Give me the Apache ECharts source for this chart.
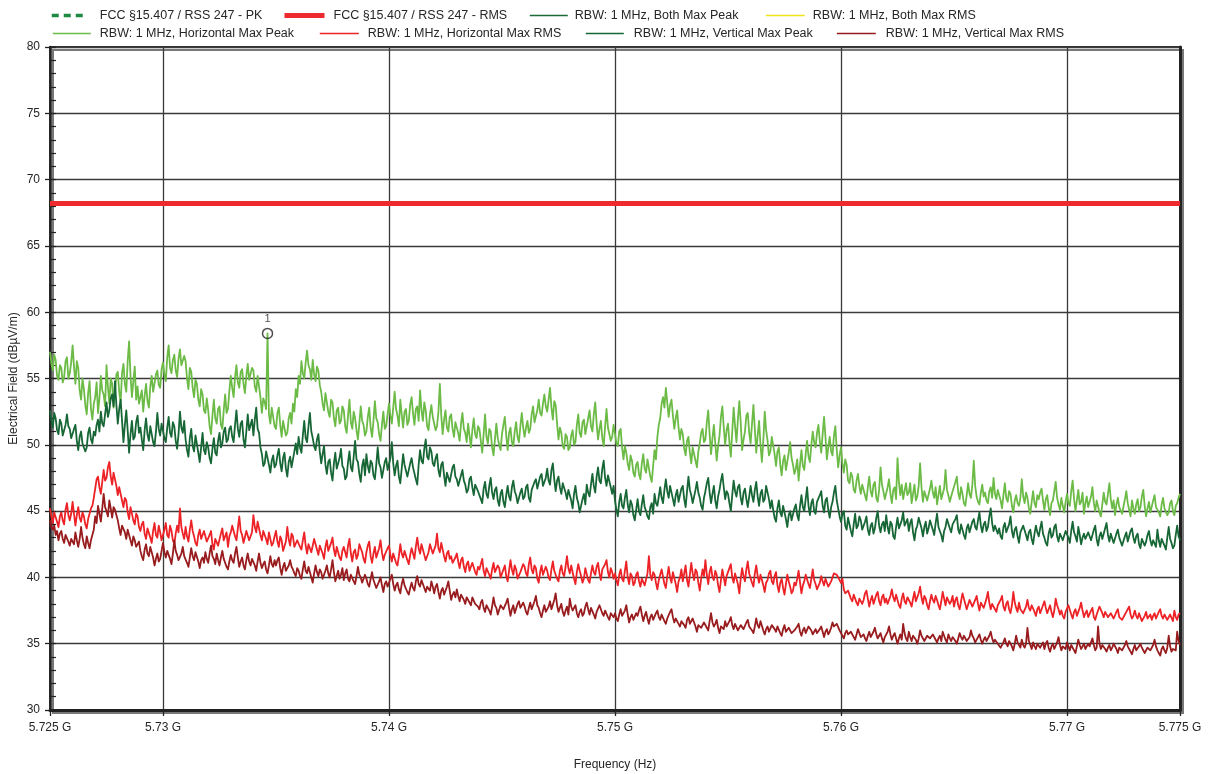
<!DOCTYPE html>
<html>
<head>
<meta charset="utf-8">
<script src="https://cdn.jsdelivr.net/npm/echarts@6/dist/echarts.min.js"></script>
<style>
html,body{margin:0;padding:0;background:#fff;}
#chart{width:1208px;height:774px;}
</style>
</head>
<body>
<div id="chart"></div>
<script>
// Sweep grid (MHz) and axis ticks
const sweepStartMHz = 5725;
const sweepStepMHz = 0.0625;
const freqTicksMHz = [5725, 5730, 5740, 5750, 5760, 5770, 5775];
const levelMin = 30, levelMax = 80, levelStep = 5;

// Limit line (dBµV/m)
const limitRms = 68.2;

// Marker 1
const markerFreqMHz = [5734.625];
const markerLevel = [58.4];
const markerIds = ['1'];

// RBW: 1 MHz, Horizontal Max Peak (dBµV/m), one row per MHz
const horizontalPeak = [
57.0,56.1,55.6,56.8,56.4,55.2,54.9,56.0,55.8,54.7,55.1,56.3,56.6,55.0,55.4,56.2,
57.5,55.9,54.6,56.3,55.8,54.1,53.4,55.0,54.2,53.0,52.3,53.9,54.8,52.7,51.9,53.1,
53.6,54.7,52.4,53.5,55.2,54.1,53.8,52.9,56.0,54.4,53.1,55.0,54.6,52.8,53.9,55.3,
55.5,54.0,53.2,55.4,56.1,54.6,54.0,56.3,57.8,55.2,53.6,54.8,55.9,53.4,54.4,53.1,
53.0,54.1,52.5,53.7,54.6,53.3,52.8,54.4,55.2,54.0,53.9,55.3,55.6,54.5,54.3,55.7,
56.2,55.3,54.8,56.6,57.5,55.8,55.4,56.4,56.8,55.6,55.1,56.5,57.2,56.0,55.9,56.7,
56.3,55.0,54.2,55.8,55.5,54.3,53.6,54.9,54.6,53.4,52.9,54.2,53.8,52.6,52.4,53.5,
52.6,51.4,50.8,52.2,53.4,52.0,51.6,52.7,52.9,51.5,51.2,52.6,53.8,52.4,52.7,54.1,
55.2,54.3,53.6,55.1,56.0,54.7,54.3,55.5,55.7,54.6,53.9,55.2,56.1,54.9,54.8,55.8,
55.6,54.4,54.0,55.2,55.3,53.6,52.4,53.5,53.2,52.7,58.4,52.3,51.6,52.8,52.1,51.4,
51.2,52.4,52.8,51.5,50.6,51.8,51.9,50.7,50.9,52.0,52.4,51.6,53.1,52.5,54.2,53.6,
55.2,54.6,56.3,55.4,55.0,56.2,57.1,56.0,55.7,54.9,56.4,55.3,54.8,55.9,55.6,54.5,
54.0,53.1,52.6,53.9,53.8,52.5,52.1,53.4,53.2,52.0,51.4,52.6,52.8,51.6,51.8,52.9,
52.6,51.4,50.9,52.2,53.4,51.7,51.2,52.5,52.0,51.1,50.4,51.6,52.9,51.8,51.5,50.7,
51.0,52.1,52.8,51.3,50.6,51.8,53.3,52.0,51.7,50.8,50.3,51.5,52.5,51.2,51.4,52.3,
53.1,52.2,51.6,52.8,54.0,52.7,52.2,51.4,53.4,52.3,51.3,52.5,52.7,51.5,51.8,53.0,
53.6,52.4,51.5,52.7,52.9,51.8,54.1,52.6,51.8,53.2,52.6,51.4,51.1,52.3,53.0,52.1,
52.0,51.1,51.4,52.5,54.6,52.2,50.8,51.9,52.6,51.3,51.0,52.1,52.3,51.2,50.6,51.7,
51.8,50.9,50.3,51.6,52.4,51.2,50.9,50.2,51.6,50.7,49.8,51.1,52.0,50.8,50.5,51.4,
51.2,50.3,49.4,50.8,52.3,50.6,50.1,51.2,51.0,49.8,49.2,50.4,51.6,50.5,50.0,49.6,
50.8,51.5,52.1,50.7,49.6,50.9,51.3,50.2,49.9,51.0,51.7,50.6,50.2,51.4,52.4,51.3,
50.6,51.3,51.8,50.9,51.2,52.3,52.9,51.7,51.6,52.6,53.4,52.4,52.2,53.1,53.8,52.9,
52.5,53.4,54.3,52.8,51.9,53.3,53.0,51.6,50.4,51.3,50.9,49.9,49.7,50.8,50.6,49.6,
49.8,50.7,51.1,50.0,50.2,51.5,52.3,50.9,50.6,51.7,51.9,50.8,50.8,52.0,52.6,51.4,
51.0,52.3,53.2,51.6,50.4,51.2,51.8,50.5,49.9,51.4,52.7,51.3,51.2,50.3,50.6,51.5,
50.8,50.1,49.9,51.0,51.2,49.8,48.9,49.9,49.4,48.6,48.1,49.2,48.8,47.9,47.6,48.5,
48.7,47.8,47.4,48.6,49.3,48.2,47.9,48.9,48.8,47.6,47.2,48.4,49.6,48.9,50.6,51.5,
52.0,53.1,53.6,52.8,54.3,53.2,52.1,53.0,53.4,52.2,51.2,52.0,52.6,51.3,50.4,51.2,
50.8,49.7,49.2,50.3,50.6,49.4,48.6,49.8,49.9,48.8,48.3,49.5,50.1,50.9,51.2,50.2,
50.4,51.7,52.6,50.8,49.3,50.5,51.5,50.1,48.8,49.9,50.7,52.1,52.9,51.3,50.0,51.1,
51.6,50.2,49.1,51.0,52.8,51.4,50.2,51.9,53.3,51.7,49.6,50.4,51.0,52.2,52.4,50.9,
50.1,51.6,53.0,51.2,49.4,50.7,51.8,50.0,48.7,50.3,52.5,51.1,50.3,49.2,49.5,50.6,
50.6,49.3,48.4,49.5,49.8,48.5,47.7,48.8,49.2,48.1,48.0,49.4,50.2,49.0,48.5,47.8,
48.2,48.9,47.3,48.5,49.6,48.4,48.1,49.3,50.3,49.1,48.7,50.0,51.0,50.2,49.8,50.9,
51.5,50.3,49.4,50.8,52.1,50.6,48.9,49.8,50.6,49.5,49.2,50.7,51.4,49.6,48.3,49.2,
49.8,48.6,47.9,48.9,48.5,47.3,47.1,47.9,47.6,46.6,46.4,47.3,47.8,46.9,46.3,47.0,
46.9,46.2,45.8,46.8,47.6,46.5,46.1,47.0,47.2,46.0,45.7,46.6,48.3,47.0,46.5,45.9,
46.0,46.8,47.4,46.3,45.6,46.6,46.8,45.9,49.0,47.2,46.2,47.0,45.9,46.5,47.1,46.2,
46.4,47.1,45.6,46.3,47.0,45.8,46.1,46.9,48.6,46.8,45.7,46.5,46.6,45.8,45.9,46.7,
47.3,46.4,46.0,46.8,45.5,46.2,46.9,45.9,45.8,46.7,48.1,46.6,46.2,45.7,45.6,46.5,
46.5,47.2,47.6,46.4,45.9,46.8,46.3,45.6,45.4,46.2,47.1,46.3,46.0,47.0,48.8,46.9,
46.1,45.7,45.5,46.4,47.0,46.1,46.4,45.8,45.6,46.5,46.8,46.0,47.5,46.3,45.9,46.6,
46.6,45.8,45.2,46.2,47.1,46.0,45.7,46.5,46.3,45.4,44.9,45.8,46.2,45.6,45.4,46.0,
47.4,46.1,45.6,46.4,46.0,45.2,44.8,45.7,46.5,45.6,45.3,46.2,45.9,46.4,46.7,45.8,
45.1,45.9,46.2,45.3,44.7,45.6,45.8,46.5,47.2,46.0,45.5,45.1,46.0,45.4,44.9,45.7,
46.3,45.6,45.4,46.5,47.3,45.9,45.0,45.8,46.6,45.5,45.7,46.4,44.8,45.6,46.1,45.3,
45.3,46.1,46.8,45.6,45.0,45.8,45.9,44.9,44.6,45.5,46.4,45.7,45.5,46.3,47.1,45.9,
45.2,45.8,44.7,45.5,46.0,45.3,45.4,44.8,44.9,45.9,46.5,45.6,45.1,44.6,45.8,45.2,
44.8,45.5,45.9,45.0,45.3,46.1,46.6,45.4,44.6,45.2,45.7,44.9,45.0,45.8,46.2,45.3,
45.4,44.9,44.6,45.5,46.0,45.2,45.1,44.7,44.9,45.6,45.8,45.0,44.7,45.4,45.6,46.0,
46.3
];

// RBW: 1 MHz, Vertical Max Peak (dBµV/m)
const verticalPeak = [
52.6,51.8,51.3,52.4,52.0,51.1,50.8,51.9,51.6,50.7,50.6,51.5,52.3,51.4,51.2,50.5,
50.4,51.2,51.5,50.3,49.6,50.6,51.0,50.1,50.2,49.5,49.8,50.9,51.3,50.4,50.1,51.0,
50.7,51.5,51.9,51.0,52.5,51.6,51.4,52.3,53.2,52.1,52.6,53.5,53.8,52.9,54.8,53.0,
51.6,52.7,53.4,51.8,50.2,51.5,52.6,51.1,49.4,50.8,51.8,50.4,50.6,51.7,52.2,50.9,
51.3,50.4,49.6,51.1,52.0,50.8,50.3,51.4,51.5,50.2,49.9,51.0,52.4,51.2,50.7,51.6,
51.6,50.5,50.2,51.3,52.1,50.9,50.6,51.7,51.4,50.3,49.7,50.8,52.5,51.3,50.9,51.8,
50.4,49.6,49.1,50.5,51.2,49.9,49.5,50.7,50.6,49.4,48.7,49.8,50.9,49.6,49.3,50.2,
49.8,49.0,48.6,49.7,50.5,49.4,49.2,50.3,50.9,49.8,50.1,51.0,51.3,50.2,50.4,51.2,
51.4,50.6,50.2,51.5,52.6,51.2,50.6,51.6,51.8,50.4,49.8,51.0,52.3,51.1,51.0,51.9,
50.7,51.9,52.8,51.2,50.9,49.8,49.3,48.4,48.6,49.5,49.6,48.5,47.9,48.8,49.2,48.3,
48.5,49.2,49.7,48.6,48.0,49.0,49.4,48.2,47.6,48.7,49.1,48.3,48.4,49.5,50.1,49.3,
50.6,49.8,49.4,50.7,51.8,50.5,50.2,51.4,52.4,51.0,50.5,49.9,49.6,50.4,50.8,49.5,
48.6,49.3,49.9,48.5,47.8,48.7,48.9,47.9,47.3,48.6,49.4,48.2,48.1,49.0,49.7,48.4,
48.2,47.4,47.6,48.7,49.5,48.3,48.0,49.1,50.3,48.9,48.7,47.8,47.2,48.4,48.9,47.7,
49.3,48.4,47.9,48.8,48.6,47.7,47.4,48.5,49.8,48.6,48.3,47.5,47.6,48.7,49.0,48.1,
48.1,49.0,50.2,48.6,47.7,48.4,48.8,47.6,47.1,48.2,49.3,48.5,48.4,47.6,47.5,48.6,
49.0,48.3,48.2,47.4,47.0,48.5,49.6,48.8,48.6,49.7,50.4,49.1,48.9,49.8,49.5,48.6,
48.4,49.0,49.3,48.1,47.6,48.5,48.7,47.7,46.9,47.9,48.0,47.2,47.3,48.3,48.5,47.6,
47.4,46.9,46.8,47.7,48.1,47.3,47.0,46.4,46.6,47.4,47.6,46.8,46.2,47.0,47.1,46.5,
46.5,45.9,45.6,46.7,47.2,46.3,46.0,46.9,47.5,46.4,45.9,46.6,46.8,45.8,45.4,46.3,
46.6,45.7,45.3,46.2,46.9,46.1,45.8,46.8,47.3,46.5,46.2,45.6,45.5,46.4,46.7,45.9,
46.1,46.8,47.0,46.0,45.7,46.6,46.5,47.2,47.4,46.7,46.8,47.6,47.8,46.9,46.9,47.5,
48.2,47.3,47.0,48.1,48.6,47.4,46.5,47.3,47.6,46.8,46.3,47.1,47.2,46.4,45.9,46.6,
46.6,45.8,45.2,46.3,46.9,46.0,45.6,44.9,44.9,45.9,46.3,45.5,47.0,46.4,46.1,47.0,
47.8,46.9,46.4,47.6,48.3,47.3,47.1,48.2,48.8,47.5,46.9,47.7,47.6,46.8,46.3,46.9,
45.8,45.1,44.6,45.7,46.3,45.4,45.2,46.0,46.6,45.5,44.9,45.8,45.5,44.7,44.3,45.1,
45.9,45.0,44.7,45.5,46.2,45.3,45.0,44.6,44.4,45.3,45.6,44.8,46.3,45.6,45.4,46.1,
46.8,46.0,45.6,46.6,47.4,46.5,46.0,46.9,47.0,45.9,45.4,46.2,46.6,45.7,45.8,46.7,
46.9,45.9,45.3,46.5,47.6,46.6,46.2,45.6,45.7,46.6,47.2,46.4,46.0,45.4,45.1,46.0,
46.5,47.1,47.5,46.4,45.6,46.3,46.9,45.8,45.2,46.1,46.6,47.3,47.8,46.8,45.9,46.5,
46.3,45.6,45.0,46.2,47.3,46.5,46.1,46.8,47.0,46.0,45.5,46.4,46.7,45.9,45.3,46.1,
46.9,46.2,45.7,46.6,47.2,46.1,45.4,46.3,46.6,45.7,45.9,46.9,46.8,45.9,45.2,45.8,
45.1,44.5,44.2,45.2,45.8,44.9,44.6,45.4,45.4,44.4,43.8,44.7,45.0,44.3,44.4,45.2,
45.5,44.7,44.3,45.4,46.2,45.3,45.0,45.9,46.8,45.4,44.7,45.6,45.9,45.0,44.8,45.7,
45.6,46.2,46.5,45.4,44.9,45.8,46.0,45.1,44.5,45.3,45.7,46.4,46.9,45.8,45.2,44.6,
44.2,44.8,45.0,43.9,43.6,44.5,44.4,43.5,43.1,44.0,44.8,43.7,43.9,44.6,44.3,43.6,
43.5,44.2,44.6,43.6,43.2,43.9,44.1,43.3,43.7,44.5,45.0,43.9,43.4,44.0,44.2,43.5,
44.7,43.8,43.3,44.2,44.0,43.1,42.9,43.8,44.5,43.7,43.6,44.3,44.9,43.9,43.8,44.4,
43.5,44.1,44.4,43.4,42.8,43.6,43.9,44.5,44.6,43.7,43.1,43.8,44.2,43.3,43.7,44.3,
44.3,43.6,43.2,44.1,44.8,43.8,43.9,43.2,42.7,43.5,43.8,44.4,44.5,43.7,43.4,44.0,
43.9,44.4,44.7,43.6,43.3,44.0,44.1,43.2,42.9,43.7,44.0,43.4,43.5,44.2,44.4,43.8,
43.6,44.3,44.9,43.9,43.4,44.0,44.2,43.5,43.8,44.6,45.2,44.1,43.5,43.9,44.0,43.3,
43.7,43.1,42.9,43.8,44.1,43.4,43.3,44.0,44.6,43.5,43.0,43.6,43.8,43.1,42.6,43.4,
43.5,43.9,44.0,43.2,42.8,43.4,43.6,42.9,42.5,43.3,43.9,43.4,43.1,43.7,44.2,43.3,
43.0,42.6,42.4,43.3,43.7,43.0,43.2,43.8,44.0,43.1,42.7,43.3,43.4,42.8,42.9,43.5,
43.6,43.0,42.6,43.5,44.2,43.4,43.1,42.7,43.8,43.2,42.5,43.0,43.3,42.9,42.8,43.4,
43.5,42.8,42.9,43.6,43.9,42.9,42.4,43.1,43.4,42.9,43.0,43.7,44.1,43.2,42.7,43.3,
43.2,42.6,42.5,43.3,43.6,43.0,42.9,42.4,42.3,43.1,43.4,42.7,42.8,43.5,43.7,43.0,
42.6,43.1,43.3,42.5,42.2,42.9,43.0,42.4,42.7,43.2,43.5,42.8,42.4,42.8,42.9,42.3,
43.6,42.8,42.3,42.9,42.9,42.4,42.1,43.0,43.8,42.9,42.6,42.2,42.4,43.2,43.9,43.1,
42.8
];

// RBW: 1 MHz, Horizontal Max RMS (dBµV/m)
const horizontalRms = [
45.2,44.6,44.1,44.9,45.0,44.2,43.8,44.6,44.9,44.3,44.0,45.1,45.6,44.7,44.3,44.8,
45.7,44.8,43.9,44.7,45.3,44.5,44.2,44.9,44.6,44.0,43.7,44.4,44.8,45.2,45.4,46.0,
46.7,47.4,47.6,46.8,46.3,47.2,48.1,47.3,47.5,48.3,48.7,47.6,47.0,47.9,47.8,46.9,
46.2,46.8,46.9,45.8,45.3,46.0,45.8,44.9,44.4,45.3,45.2,44.3,44.0,44.8,44.6,43.8,
43.5,44.0,44.2,43.3,42.9,43.7,43.8,43.0,42.6,43.5,44.1,43.2,43.0,43.9,43.4,42.8,
42.7,43.6,44.1,43.2,43.0,43.9,43.5,42.8,42.5,43.3,43.9,43.4,45.2,43.8,43.3,42.9,
43.8,43.1,42.7,43.6,44.3,43.5,43.1,42.6,42.4,43.2,43.6,42.9,42.8,43.5,43.4,42.7,
42.6,43.2,43.5,42.5,42.1,42.9,43.0,42.4,42.5,43.3,43.7,42.8,42.9,43.4,42.3,43.1,
43.4,43.9,44.0,43.1,42.8,43.7,44.6,43.5,43.2,42.6,42.7,43.5,43.6,42.8,42.9,43.4,
44.7,43.8,43.4,44.2,44.1,43.2,42.8,43.5,43.6,42.9,42.5,43.4,43.3,42.4,42.6,43.1,
43.5,42.7,42.3,43.1,42.8,42.0,41.9,42.7,43.8,42.9,42.4,43.3,43.1,42.3,42.2,42.8,
42.9,42.3,42.1,42.8,43.4,42.4,41.8,42.5,42.6,41.9,42.0,42.9,42.8,42.1,41.7,42.4,
42.5,41.8,41.4,42.3,42.8,42.0,41.9,42.6,43.0,42.1,41.6,42.3,42.2,41.5,41.3,42.0,
42.3,41.9,41.5,42.4,42.9,41.8,41.2,41.9,42.1,41.4,41.7,42.5,42.6,41.9,41.4,41.1,
41.9,42.4,42.7,41.6,41.1,41.8,42.3,41.5,41.6,42.2,42.8,41.9,41.3,41.7,41.8,42.2,
42.4,41.7,41.2,41.8,41.9,41.1,40.9,41.6,42.5,41.8,41.5,42.0,42.1,41.3,41.0,41.7,
42.2,41.8,41.4,42.3,43.0,42.2,41.8,42.5,42.6,41.7,41.3,41.6,41.9,42.5,42.4,41.8,
41.7,42.4,43.3,42.2,41.9,42.6,42.5,41.6,41.2,41.8,42.0,41.4,41.6,41.1,41.0,41.5,
41.8,41.2,40.7,41.3,41.5,40.8,40.4,41.0,41.2,40.5,40.6,41.1,41.0,40.4,40.2,40.8,
40.6,41.0,41.4,40.5,40.1,40.7,40.8,40.2,39.9,40.6,41.1,40.4,40.3,40.9,40.7,40.0,
40.0,40.6,40.9,40.1,39.7,40.5,41.3,40.6,40.2,40.9,40.6,39.9,39.8,40.4,40.5,41.0,
40.8,40.3,40.1,41.0,41.5,40.6,40.3,40.9,40.7,39.9,39.6,40.4,40.9,40.2,40.2,40.8,
40.5,40.0,39.8,40.6,41.2,40.5,40.4,39.9,39.7,40.5,40.9,40.3,40.1,40.8,41.6,40.7,
40.3,40.9,40.8,39.9,39.5,40.4,41.0,40.5,40.1,39.6,39.9,40.7,40.6,39.8,39.6,40.3,
40.9,40.4,40.2,40.8,41.1,40.3,39.8,40.6,40.5,41.0,41.3,40.4,40.0,40.7,40.4,39.9,
40.3,39.8,39.4,40.2,40.6,39.9,39.7,40.5,41.2,40.0,39.5,40.3,40.1,39.4,39.6,40.2,
40.4,39.7,39.3,39.9,40.0,39.4,39.5,40.3,41.6,40.2,39.8,40.4,40.2,39.6,39.1,39.8,
39.9,40.6,40.5,39.5,39.2,40.1,40.8,40.0,39.6,40.4,40.3,39.5,38.9,39.7,40.0,40.6,
39.7,40.3,40.9,39.8,39.3,40.2,41.1,40.3,39.8,40.6,40.4,39.6,39.0,39.9,40.6,40.1,
41.3,40.2,39.5,40.4,40.8,40.0,39.8,40.5,40.2,39.4,38.9,39.8,40.6,40.0,39.4,40.1,
40.1,40.7,41.0,40.0,39.6,40.3,40.4,39.5,38.8,39.9,40.7,40.1,39.7,40.6,41.2,40.3,
40.2,39.6,39.3,40.3,40.9,40.1,39.6,40.2,40.1,39.4,38.9,39.6,39.8,40.3,40.5,39.7,
39.5,40.1,40.4,39.4,38.9,39.6,39.9,39.2,38.7,39.5,40.2,39.7,39.3,38.8,39.0,39.6,
39.4,39.9,40.5,39.6,38.8,39.4,39.7,40.2,40.3,39.5,39.2,39.9,40.6,39.8,39.5,39.1,
39.0,39.6,40.1,39.7,39.4,39.9,39.8,39.3,39.2,39.7,40.0,40.3,40.4,40.2,40.1,39.8,
39.6,39.9,39.1,38.8,38.7,39.0,38.9,38.4,38.2,38.7,38.6,38.1,37.9,38.4,38.5,38.0,
38.3,38.8,39.0,38.4,37.8,38.3,38.6,38.0,38.1,38.7,38.9,38.2,37.9,38.5,38.7,38.1,
38.4,38.0,37.9,38.6,39.1,38.5,38.2,38.7,38.6,37.9,37.7,38.4,38.8,38.2,38.0,38.5,
38.5,38.1,37.8,38.4,38.9,38.2,38.1,38.8,39.3,38.5,38.0,38.6,38.4,37.9,37.6,38.2,
38.7,38.3,38.1,38.6,38.3,37.9,37.6,38.2,38.9,38.4,37.9,38.5,38.6,38.0,38.2,38.6,
37.8,38.3,38.5,37.9,37.6,38.2,38.8,38.4,38.0,37.6,37.7,38.3,38.4,37.8,37.9,38.3,
38.6,38.0,37.5,38.1,38.2,37.7,37.8,38.4,38.9,38.1,37.6,38.0,38.1,37.6,37.4,37.9,
37.9,38.3,38.6,37.8,37.5,38.0,38.2,37.6,37.3,37.9,38.9,38.1,37.7,37.4,38.1,37.6,
37.6,37.3,37.2,37.8,38.3,37.7,37.5,37.9,38.0,37.4,37.1,37.6,37.8,37.3,37.4,37.9,
38.2,37.7,37.3,37.6,37.9,37.4,37.0,37.5,38.4,37.9,37.6,37.2,37.5,37.1,36.9,37.4,
37.4,37.9,37.8,37.2,36.9,37.4,37.6,37.1,37.2,37.7,38.1,37.5,37.0,37.3,37.5,37.0,
37.1,37.5,37.7,37.0,36.8,37.2,37.3,37.8,37.9,37.3,37.0,37.4,37.5,37.0,36.9,37.3,
37.3,36.9,36.8,37.4,37.6,37.0,37.1,36.8,36.7,37.2,37.4,37.6,37.8,37.2,36.9,37.1,
37.5,37.1,36.9,37.3,37.2,36.7,36.6,37.1,37.4,36.9,37.0,37.2,36.8,37.1,37.3,36.9,
37.0,37.4,37.6,37.1,36.9,37.2,37.3,36.8,36.8,37.2,37.1,36.7,37.5,37.0,36.8,37.2,
37.3
];

// RBW: 1 MHz, Vertical Max RMS (dBµV/m)
const verticalRms = [
44.3,43.8,43.6,43.9,43.2,43.5,42.8,43.3,43.5,42.9,42.6,43.2,43.1,42.7,42.4,42.9,
42.9,42.5,43.4,42.8,42.3,42.9,43.8,43.0,42.5,42.2,43.1,42.6,42.2,42.8,42.7,43.6,
44.6,44.1,45.4,44.8,44.2,45.2,46.3,45.3,45.0,44.6,45.8,45.2,44.5,45.3,45.1,44.7,
44.3,43.7,43.2,43.9,44.0,43.4,42.9,43.6,43.5,42.8,42.4,43.1,42.8,42.3,42.3,42.7,
42.0,41.6,41.3,42.1,42.5,41.8,41.6,42.3,42.2,41.5,40.9,41.4,41.8,41.2,41.4,42.0,
42.6,41.9,41.5,42.0,42.1,41.4,41.0,41.8,42.8,42.0,41.7,41.3,41.2,41.8,42.3,41.6,
41.6,41.1,40.8,41.5,42.2,41.6,41.3,41.9,41.9,41.2,40.7,41.3,41.5,41.1,41.9,41.4,
41.1,41.8,42.4,41.6,41.4,41.0,41.8,41.3,40.9,41.5,42.0,41.4,41.3,40.8,40.6,41.2,
41.7,41.3,41.1,41.8,42.3,41.5,40.8,41.2,41.5,40.9,40.6,41.3,41.8,41.2,40.9,41.4,
41.4,40.9,40.5,41.2,41.8,41.1,40.7,41.0,41.2,40.6,40.3,40.9,41.6,41.0,40.8,41.3,
40.9,41.3,41.5,40.7,40.2,40.8,41.1,40.5,40.4,40.9,41.3,40.8,40.6,40.3,40.1,40.7,
40.5,40.1,39.9,40.6,41.2,40.5,40.3,40.8,40.7,40.0,39.6,40.3,40.9,40.4,40.1,40.6,
40.4,39.9,39.8,40.5,40.9,40.3,40.0,40.6,41.3,40.4,39.7,40.1,40.5,39.9,40.2,40.7,
39.8,40.3,40.6,39.9,39.7,40.2,40.3,39.7,39.5,40.1,40.8,40.2,40.0,39.6,39.6,40.2,
39.9,39.5,39.3,39.9,40.4,39.8,39.5,39.2,39.1,39.7,40.0,39.4,38.9,39.5,39.7,39.3,
39.4,39.9,40.2,39.5,39.0,39.4,39.6,39.1,38.8,39.5,39.9,39.4,39.3,38.9,38.7,39.2,
39.6,39.2,39.0,39.7,40.1,39.5,39.3,39.8,39.8,39.2,38.9,39.3,39.4,39.0,39.7,39.3,
38.8,39.3,39.5,38.9,38.4,39.0,39.2,38.7,38.6,39.3,39.7,39.0,38.3,38.7,38.9,38.5,
39.1,38.6,38.2,38.7,38.8,38.3,38.0,38.5,38.6,38.1,37.9,38.5,38.4,38.0,38.1,37.8,
37.6,38.1,38.3,37.7,37.4,37.9,38.0,37.5,37.2,37.8,38.5,37.9,37.7,37.2,37.3,37.9,
38.0,37.6,37.5,38.1,38.4,37.7,37.1,37.6,37.9,37.3,37.4,38.0,38.2,37.7,37.6,38.1,
37.8,37.4,37.2,37.7,38.1,37.6,37.5,38.2,38.6,37.9,37.7,37.3,37.0,37.5,37.9,37.4,
37.3,37.8,38.2,37.6,37.6,38.3,38.8,37.9,37.4,37.7,38.0,37.4,37.1,37.5,37.8,37.2,
38.4,37.8,37.5,37.6,37.9,37.3,37.0,37.4,37.6,37.1,37.3,37.8,38.1,37.6,37.2,37.7,
37.7,37.2,36.9,37.4,37.5,37.9,38.0,37.3,37.1,37.5,37.6,37.0,36.8,37.3,37.4,37.0,
37.3,36.9,36.7,37.2,37.6,37.1,37.0,37.5,37.9,37.2,36.6,37.0,37.2,36.8,36.9,37.3,
37.1,37.5,37.8,37.2,36.7,37.1,37.4,36.9,36.5,37.0,37.2,36.8,36.9,37.3,37.5,37.0,
36.8,37.2,37.3,36.7,36.5,36.9,37.0,37.4,37.6,37.0,36.6,36.9,36.9,36.5,36.3,36.7,
36.7,36.4,36.2,36.8,37.0,36.5,36.4,36.9,36.9,36.3,35.9,36.4,36.5,36.2,36.1,36.6,
36.6,36.2,36.0,36.7,37.3,36.6,36.3,36.5,36.8,36.2,35.8,36.3,36.4,36.1,36.7,36.3,
36.2,36.7,37.0,36.4,36.1,36.5,36.6,36.0,35.9,36.4,36.5,36.1,36.0,36.6,36.8,36.3,
36.4,36.0,35.8,36.3,36.9,36.4,36.2,36.7,36.6,36.0,35.7,36.1,36.3,35.9,36.0,36.4,
36.5,36.1,35.9,36.3,36.2,35.8,35.6,36.1,36.4,35.9,35.8,36.2,36.1,35.8,35.7,36.0,
36.0,36.3,36.5,35.9,35.6,36.0,36.2,35.8,35.9,36.3,36.4,36.0,35.7,35.9,36.1,35.8,
35.8,36.1,36.3,35.9,35.5,35.9,36.1,35.7,35.9,36.2,36.6,36.3,36.2,36.5,36.4,36.0,
35.9,35.6,35.4,35.8,36.0,35.7,35.6,35.9,35.8,35.5,35.3,35.7,36.1,35.8,35.5,35.6,
35.7,35.4,35.2,35.6,35.9,35.5,35.5,35.9,36.2,35.7,35.4,35.6,35.8,35.4,35.1,35.5,
35.6,35.9,36.3,35.7,35.3,35.6,35.8,35.4,35.0,35.4,35.7,35.3,36.5,35.8,35.4,35.2,
35.9,35.5,35.2,35.6,35.6,35.3,35.0,35.4,36.0,35.6,35.5,35.2,35.3,35.6,35.7,35.4,
35.4,35.7,35.8,35.3,35.1,35.4,35.6,35.2,35.9,35.6,35.3,35.1,35.7,35.4,35.2,35.5,
35.5,35.2,35.0,35.4,35.8,35.5,35.3,35.6,35.6,35.2,35.1,35.5,36.0,35.6,35.4,35.1,
35.2,35.5,35.7,35.3,35.0,35.3,35.5,35.2,35.3,35.6,35.9,35.4,35.1,35.3,35.4,35.0,
35.0,34.7,34.6,35.1,35.4,35.0,34.8,35.2,35.2,34.8,34.5,35.0,35.6,35.1,34.9,34.7,
35.3,34.9,34.7,35.0,36.2,35.2,34.9,34.6,35.1,34.8,34.6,35.0,35.0,34.7,34.8,35.1,
34.6,35.0,35.2,34.7,34.4,34.8,35.0,34.6,34.7,35.1,35.5,34.9,34.5,34.8,34.9,34.6,
35.1,34.8,34.5,34.9,34.9,34.5,34.3,34.8,35.3,34.9,34.6,34.8,35.0,34.6,34.7,35.0,
34.8,35.1,35.4,34.9,34.5,34.7,36.3,35.0,34.6,34.9,35.0,34.6,34.4,34.7,34.9,34.5,
34.7,35.0,35.1,34.6,34.3,34.7,34.8,34.5,34.5,34.9,35.2,34.8,34.6,34.4,34.2,34.6,
34.9,34.5,34.4,34.8,35.0,34.7,34.6,34.3,34.3,34.7,34.8,34.5,34.5,34.9,35.3,34.8,
34.5,34.3,34.1,34.6,34.8,34.5,34.3,34.7,35.6,34.8,34.4,34.6,34.7,34.5,35.9,35.2,
34.9
];

const FONT = '"Liberation Sans", Arial, Helvetica, sans-serif';
const TEXT = '#262626';

const NAME_PK = 'FCC §15.407 / RSS 247 - PK';
const NAME_RMS = 'FCC §15.407 / RSS 247 - RMS';
const NAME_BP = 'RBW: 1 MHz, Both Max Peak';
const NAME_BR = 'RBW: 1 MHz, Both Max RMS';
const NAME_HP = 'RBW: 1 MHz, Horizontal Max Peak';
const NAME_HR = 'RBW: 1 MHz, Horizontal Max RMS';
const NAME_VP = 'RBW: 1 MHz, Vertical Max Peak';
const NAME_VR = 'RBW: 1 MHz, Vertical Max RMS';

const pairs = arr => arr.map((v, i) => [sweepStartMHz + i * sweepStepMHz, v]);

function trace(name, values, color) {
  return {
    name, type: 'line', data: pairs(values),
    symbol: 'none', showSymbol: false, silent: true,
    lineStyle: { color, width: 1.8, join: 'round' },
    itemStyle: { color },
    animation: false, sampling: 'none'
  };
}

// one legend block per entry so each can sit at its own spot
function legendItem(name, left, top, itemWidth, pad, lineStyle) {
  return {
    data: [name], left, top, itemWidth, itemHeight: 14,
    selectedMode: false, padding: 0,
    textStyle: { fontFamily: FONT, fontSize: 12.5, color: TEXT, padding: [0, 0, 0, pad] },
    itemStyle: { color: 'rgba(0,0,0,0)', borderColor: 'rgba(0,0,0,0)', borderWidth: 0, opacity: 0 },
    lineStyle
  };
}

const chart = echarts.init(document.getElementById('chart'), null, { renderer: 'canvas' });

chart.setOption({
  backgroundColor: '#ffffff',
  animation: false,
  textStyle: { fontFamily: FONT },
  grid: {
    left: 50, right: 28, top: 47, bottom: 64,
    containLabel: false, outerBoundsMode: 'none',
    show: true, backgroundColor: '#ffffff',
    borderColor: '#333333', borderWidth: 2,
    shadowColor: 'rgba(120,120,120,1)', shadowOffsetX: 3, shadowOffsetY: 3, shadowBlur: 0
  },
  legend: [
    legendItem(NAME_PK, 50, 9, 35, 8, { color: '#1f8a42', width: 3.5, type: [7, 5] }),
    legendItem(NAME_RMS, 282, 9, 40, 4, { color: '#ee2a2e', width: 5 }),
    legendItem(NAME_BP, 529, 9, 38, 2, { color: '#1b6a37', width: 1.6 }),
    legendItem(NAME_BR, 765, 9, 39, 3, { color: '#f2e21c', width: 1.6 }),
    legendItem(NAME_HP, 52, 27, 38, 4, { color: '#6cbb47', width: 1.6 }),
    legendItem(NAME_HR, 319, 27, 39, 4, { color: '#ec2227', width: 1.6 }),
    legendItem(NAME_VP, 585, 27, 38, 5, { color: '#176635', width: 1.6 }),
    legendItem(NAME_VR, 836, 27, 39, 5, { color: '#981b1e', width: 1.6 })
  ],
  xAxis: {
    type: 'value', min: sweepStartMHz, max: freqTicksMHz[freqTicksMHz.length - 1],
    name: 'Frequency (Hz)', nameLocation: 'middle', nameGap: 49,
    nameTextStyle: { fontFamily: FONT, fontSize: 12, color: TEXT },
    axisLine: { show: true, onZero: false, lineStyle: { color: '#222222', width: 3 } },
    axisTick: { show: true, customValues: freqTicksMHz, length: 6, lineStyle: { color: '#222222', width: 1.3 } },
    axisLabel: {
      customValues: freqTicksMHz, margin: 12,
      fontFamily: FONT, fontSize: 12, color: TEXT,
      formatter: v => (v / 1000) + ' G'
    },
    splitLine: { show: true, lineStyle: { color: '#3a3a3a', width: 1.3 } }
  },
  yAxis: [
    {
      type: 'value', min: levelMin, max: levelMax, interval: levelStep, position: 'left',
      name: 'Electrical Field (dBµV/m)', nameLocation: 'middle', nameGap: 30, nameMoveOverlap: false,
      nameTextStyle: { fontFamily: FONT, fontSize: 12, color: TEXT },
      axisLine: { show: true, onZero: false, lineStyle: { color: '#222222', width: 2.5 } },
      axisTick: { show: true, length: 5, lineStyle: { color: '#222222', width: 1.3 } },
      axisLabel: { margin: 10, fontFamily: FONT, fontSize: 12, color: TEXT },
      splitLine: { show: true, lineStyle: { color: '#3a3a3a', width: 1.3 } }
    },
    {
      // inner 1 dB ticks
      type: 'value', min: levelMin, max: levelMax, interval: 1, position: 'left',
      axisLine: { show: false },
      axisTick: { show: true, inside: true, length: 6, lineStyle: { color: '#222222', width: 1.2 } },
      axisLabel: { show: false }, splitLine: { show: false }
    },
    {
      // heavy right frame edge
      type: 'value', min: levelMin, max: levelMax, position: 'right',
      axisLine: { show: true, onZero: false, lineStyle: { color: '#222222', width: 3 } },
      axisTick: { show: false }, axisLabel: { show: false }, splitLine: { show: false }
    }
  ],
  series: [
    { name: NAME_PK, type: 'line', data: [], symbol: 'none', lineStyle: { color: '#1f8a42', width: 3, type: 'dashed' }, itemStyle: { color: '#1f8a42' } },
    {
      name: NAME_RMS, type: 'line', symbol: 'none', silent: true, z: 3,
      data: [[sweepStartMHz, limitRms], [freqTicksMHz[freqTicksMHz.length - 1], limitRms]],
      lineStyle: { color: '#ee2a2e', width: 5 }, itemStyle: { color: '#ee2a2e' }
    },
    { name: NAME_BP, type: 'line', data: [], symbol: 'none', lineStyle: { color: '#1b6a37', width: 1.6 }, itemStyle: { color: '#1b6a37' } },
    { name: NAME_BR, type: 'line', data: [], symbol: 'none', lineStyle: { color: '#f2e21c', width: 1.6 }, itemStyle: { color: '#f2e21c' } },
    trace(NAME_HP, horizontalPeak, '#6cbb47'),
    trace(NAME_VP, verticalPeak, '#176635'),
    trace(NAME_HR, horizontalRms, '#ec2227'),
    trace(NAME_VR, verticalRms, '#981b1e'),
    {
      name: 'Marker', type: 'scatter', z: 5, silent: true,
      data: markerFreqMHz.map((f, i) => [f, markerLevel[i]]),
      symbol: 'circle', symbolSize: 10,
      itemStyle: { color: 'rgba(255,255,255,0)', borderColor: '#222222', borderWidth: 1.5 },
      label: {
        show: true, position: 'top', distance: 3,
        formatter: p => markerIds[p.dataIndex],
        fontFamily: FONT, fontSize: 11, color: TEXT
      }
    }
  ]
});
</script>
</body>
</html>
